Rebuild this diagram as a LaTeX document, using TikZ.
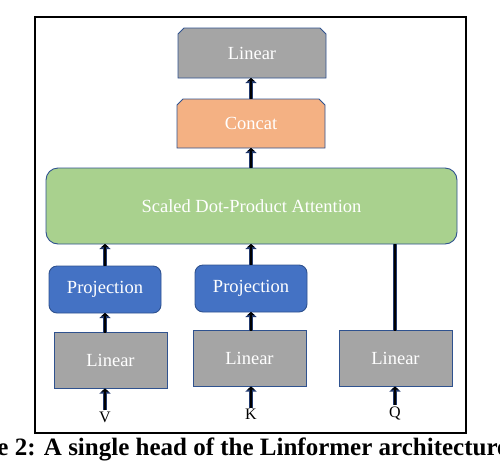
\documentclass[tikz,border=0pt]{standalone}
\usepackage{fontspec}
\setmainfont{Liberation Serif}
\usetikzlibrary{positioning, arrows.meta}
\tikzstyle{pixels} = [x = 1pt, y = -1pt]
\definecolor{edgeColor}{RGB}{47,82,143}
\definecolor{arrowEdge}{RGB}{34,58,110}
\definecolor{linearGray}{RGB}{165,165,165}
\definecolor{concatOrange}{RGB}{244,177,131}
\definecolor{attnGreen}{RGB}{169,209,142}
\definecolor{projBlue}{RGB}{68,114,196}
\tikzstyle{boxText} = [text=white, font=\fontsize{18.5}{22}\selectfont, inner sep=0pt, outer sep=0pt]
\tikzstyle{blockStyle} = [boxText, draw=edgeColor, line width=.9pt]
\tikzstyle{linearStyle} = [blockStyle, fill=linearGray, minimum width=113pt, minimum height=56pt]
\tikzstyle{projStyle} = [blockStyle, fill=projBlue, rounded corners=8pt, minimum width=112pt, minimum height=47pt]
\tikzstyle{attnStyle} = [blockStyle, fill=attnGreen, rounded corners=12pt, minimum width=411pt, minimum height=76pt]
\tikzstyle{chamferStyle} = [draw=edgeColor, line width=.9pt]
\tikzstyle{inputText} = [font=\fontsize{16}{18}\selectfont, inner sep=1pt]
\tikzstyle{captionText} = [font=\bfseries\fontsize{25}{30}\selectfont, inner sep=0pt]
\tikzstyle{flowStyle} = [draw=arrowEdge, line width=4.5pt, -{Triangle[length=5pt,width=11pt]}, postaction={draw=black, line width=2.4pt, -{Triangle[length=3pt,width=7pt]}}]
\tikzstyle{flowLine} = [draw=arrowEdge, line width=4pt, postaction={draw=black, line width=2pt}]
\newcommand{\cut}{6}
\newcommand{\chamferBox}[7]{
  \filldraw [chamferStyle, fill=#6] (#2 - #4/2, #3 + #5/2) -- (#2 - #4/2, #3 - #5/2 + \cut) -- (#2 - #4/2 + \cut, #3 - #5/2) -- (#2 + #4/2 - \cut, #3 - #5/2) -- (#2 + #4/2, #3 - #5/2 + \cut) -- (#2 + #4/2, #3 + #5/2) -- cycle;
  \node [boxText, minimum width=#4pt, minimum height=#5pt] (#1) at (#2, #3) {#7};
}
\newcommand{\flowArrow}[2]{\draw [flowStyle] (#1) -- (#2);}

\begin{document}
\begin{tikzpicture}[pixels]
    \useasboundingbox (0,0) rectangle (500,464);
    \clip (0,0) rectangle (500,464);
    \draw [line width=2pt] (35,17) rectangle (466,433);
    % output side
    \chamferBox{linOut}{252}{53}{148}{50}{linearGray}{Linear}
    \chamferBox{concat}{251}{123.5}{148}{49}{concatOrange}{Concat}
    \node [attnStyle] (attn) at (251.5,206) {Scaled Dot-Product Attention};
    % value, key and query branches
    \node [projStyle] (projV) at (105,289.5) {Projection};
    \node [projStyle] (projK) at (251,288.5) {Projection};
    \node [linearStyle] (linV) at (110.5,360.5) {Linear};
    \node [linearStyle] (linK) at (249.5,358.5) {Linear};
    \node [linearStyle] (linQ) at (395.5,358.5) {Linear};
    \node [inputText] (inV) at (105,417) {V};
    \node [inputText] (inK) at (251,414) {K};
    \node [inputText] (inQ) at (395,413) {Q};
    \flowArrow{inV.north}{inV.north |- linV.south}
    \flowArrow{inK.north}{inK.north |- linK.south}
    \flowArrow{inQ.north}{inQ.north |- linQ.south}
    \flowArrow{linV.north -| projV.south}{projV.south}
    \flowArrow{linK.north -| projK.south}{projK.south}
    \flowArrow{projV.north}{projV.north |- attn.south}
    \flowArrow{projK.north}{projK.north |- attn.south}
    \draw [flowLine] (linQ.north -| inQ) -- (attn.south -| inQ);
    \flowArrow{attn.north -| concat.south}{concat.south}
    \flowArrow{concat.north}{concat.north |- linOut.south}
    \node [captionText, anchor=base west] (caption) at (-62,455) {Figure 2: A single head of the Linformer architecture.};
\end{tikzpicture}
\end{document}
